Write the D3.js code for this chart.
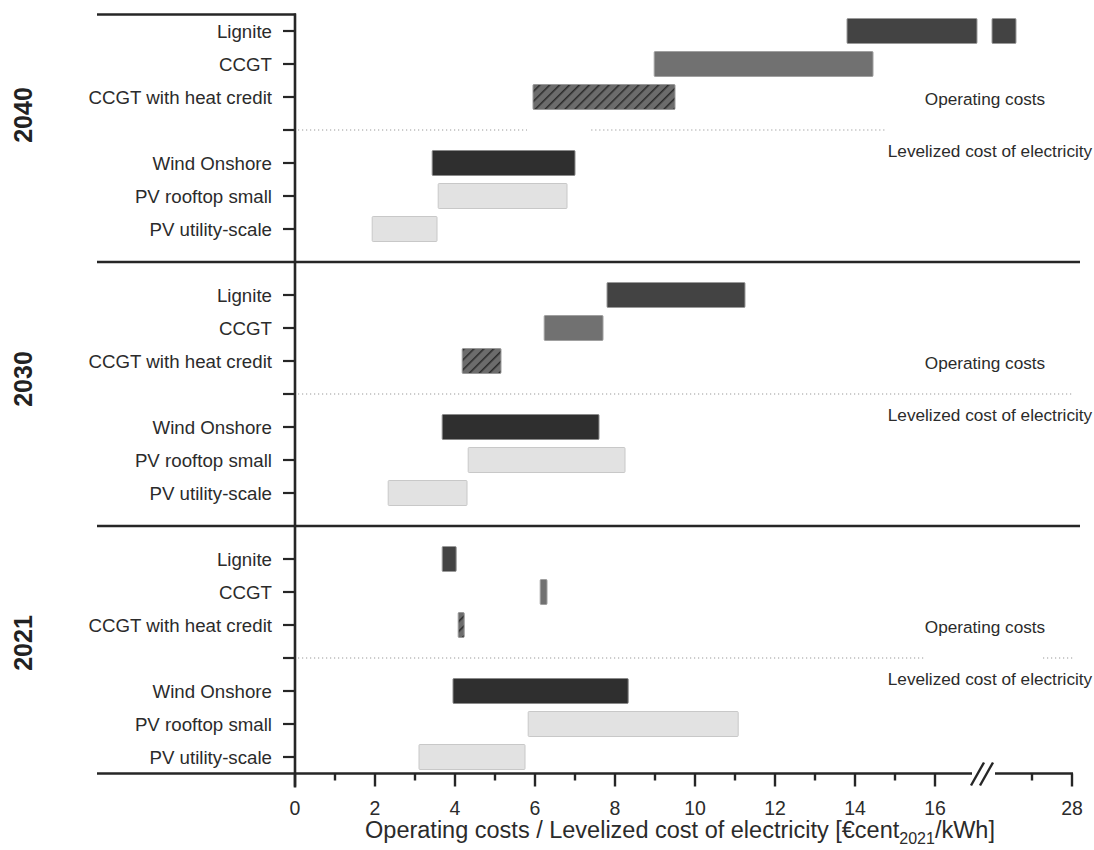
<!DOCTYPE html>
<html>
<head>
<meta charset="utf-8">
<script src="https://cdn.jsdelivr.net/npm/d3@7"></script>
<style>
  html, body { margin: 0; padding: 0; background: #fff; }
  svg { display: block; font-family: "Liberation Sans", Arial, sans-serif; }
</style>
</head>
<body>
<svg id="viz" width="1094" height="850"></svg>
<script>
const techs = ["Lignite", "CCGT", "CCGT with heat credit", "Wind Onshore", "PV rooftop small", "PV utility-scale"]
const years = ["2040", "2030", "2021"]

// ranges per tech, same order as techs
const low2040 = [13.8, 8.98, 5.95, 3.43, 3.58, 1.93]
const high2040 = [26.6, 14.45, 9.5, 7.0, 6.8, 3.55]
const low2030 = [7.8, 6.23, 4.18, 3.68, 4.33, 2.33]
const high2030 = [11.25, 7.7, 5.15, 7.6, 8.25, 4.3]
const low2021 = [3.68, 6.13, 4.08, 3.95, 5.83, 3.1]
const high2021 = [4.03, 6.3, 4.23, 8.33, 11.08, 5.75]

// dotted line between operating costs and LCOE (pieces)
const sep2040 = [[0, 5.8], [7.33, 14.8]]
const sep2030 = [[0, 28.05]]
const sep2021 = [[0, 15.75], [27.2, 28.05]]

const majorTicks = [0, 2, 4, 6, 8, 10, 12, 14, 16, 28]
const minorTicks = [1, 3, 5, 7, 9, 11, 13, 15, 27]

const techFill = ["#434343", "#717171", "url(#hatch)", "#2f2f2f", "#e2e2e2", "#e2e2e2"]
const techStroke = ["#9a9a9a", "#a0a0a0", "#9a9a9a", "#8a8a8a", "#c8c8c8", "#c8c8c8"]

const lows = [low2040, low2030, low2021]
const highs = [high2040, high2030, high2021]
const seps = [sep2040, sep2030, sep2021]

const breakLo = 17.05
const breakHi = 26

const xa = d3.scaleLinear().domain([0, breakLo]).range([295, 977])
const xb = d3.scaleLinear().domain([breakHi, 28]).range([992, 1072])
const x = v => v <= breakLo ? xa(v) : xb(v)

const y = d3.scaleLinear().domain([-0.5, 22.5]).range([14.5, 773.5])
const slotOf = (yi, ti) => yi * 8 + (ti < 3 ? ti : ti + 1)
const barH = 25

const svg = d3.select("#viz")
const ink = "#262626"

const defs = svg.append("defs")
const hatch = defs.append("pattern")
  .attr("id", "hatch")
  .attr("patternUnits", "userSpaceOnUse")
  .attr("width", 7).attr("height", 7)
  .attr("patternTransform", "rotate(45)")
hatch.append("rect").attr("width", 7).attr("height", 7).attr("fill", "#6c6c6c")
hatch.append("line")
  .attr("x1", 0).attr("y1", 0).attr("x2", 0).attr("y2", 7)
  .attr("stroke", "#2a2a2a").attr("stroke-width", 3)

// rows
const rows = []
years.forEach((yr, yi) => {
  techs.forEach((t, ti) => {
    rows.push({ year: yr, yi, tech: t, ti, lo: lows[yi][ti], hi: highs[yi][ti], slot: slotOf(yi, ti) })
  })
})

// split bars that run over the axis break
const pieces = []
rows.forEach(r => {
  if (r.hi <= breakLo) pieces.push({ ...r, a: r.lo, b: r.hi })
  else {
    pieces.push({ ...r, a: r.lo, b: breakLo })
    pieces.push({ ...r, a: breakHi, b: r.hi })
  }
})

// separators (dotted)
const sepG = svg.append("g").attr("class", "g-seps")
seps.forEach((segs, yi) => {
  sepG.selectAll(null)
    .data(segs)
    .enter()
    .append("line")
      .attr("x1", d => x(d[0]) + 3)
      .attr("x2", d => x(d[1]))
      .attr("y1", y(yi * 8 + 3))
      .attr("y2", y(yi * 8 + 3))
      .attr("stroke", "#9a9a9a")
      .attr("stroke-width", 1.2)
      .attr("stroke-dasharray", "1.2,2.8")
})

svg.append("g").attr("class", "g-bars")
  .selectAll("rect")
  .data(pieces)
  .enter()
  .append("rect")
    .attr("x", d => x(d.a))
    .attr("y", d => y(d.slot) - barH / 2)
    .attr("width", d => x(d.b) - x(d.a))
    .attr("height", barH)
    .attr("rx", 1)
    .attr("fill", d => techFill[d.ti])
    .attr("stroke", d => techStroke[d.ti])
    .attr("stroke-width", 1)

// panel frame lines
const frame = svg.append("g").attr("class", "g-frame")
frame.append("line").attr("x1", 97).attr("x2", 296).attr("y1", y(-0.5)).attr("y2", y(-0.5))
frame.selectAll(null)
  .data([7, 15])
  .enter()
  .append("line")
    .attr("x1", 97).attr("x2", 1080)
    .attr("y1", d => y(d)).attr("y2", d => y(d))
frame.append("line").attr("x1", 97).attr("x2", 296).attr("y1", y(22.5)).attr("y2", y(22.5))
frame.selectAll("line").attr("stroke", ink).attr("stroke-width", 2.4)

// y axis line + ticks
const yTicks = d3.range(0, 23).filter(s => s !== 7 && s !== 15)
const yAx = svg.append("g").attr("class", "g-yaxis")
yAx.append("line")
  .attr("x1", 295).attr("x2", 295)
  .attr("y1", y(-0.5) - 1).attr("y2", y(22.5) + 14)
  .attr("stroke", ink).attr("stroke-width", 2.6)
yAx.selectAll("line.tick")
  .data(yTicks)
  .enter()
  .append("line")
    .attr("class", "tick")
    .attr("x1", 283).attr("x2", 295)
    .attr("y1", d => y(d)).attr("y2", d => y(d))
    .attr("stroke", ink).attr("stroke-width", 2.2)

yAx.selectAll("text")
  .data(rows)
  .enter()
  .append("text")
    .attr("x", 272)
    .attr("y", d => y(d.slot))
    .attr("dy", "0.35em")
    .attr("text-anchor", "end")
    .attr("font-size", 18.7)
    .attr("fill", "#2b2b2b")
    .text(d => d.tech)

// year labels
svg.append("g").attr("class", "g-years")
  .selectAll("text")
  .data(years)
  .enter()
  .append("text")
    .attr("transform", (d, i) => `translate(32,${y(i * 8 + 3) - 15}) rotate(-90)`)
    .attr("text-anchor", "middle")
    .attr("font-size", 25)
    .attr("font-weight", "bold")
    .attr("fill", "#222")
    .text(d => d)

// section labels
const notes = svg.append("g").attr("class", "g-notes")
years.forEach((yr, yi) => {
  notes.append("text")
    .attr("x", 985).attr("y", y(yi * 8 + 3) - 31)
    .attr("dy", "0.35em")
    .attr("text-anchor", "middle")
    .attr("font-size", 17.2)
    .attr("fill", "#2b2b2b")
    .text("Operating costs")
  notes.append("text")
    .attr("x", 990).attr("y", y(yi * 8 + 3) + 21)
    .attr("dy", "0.35em")
    .attr("text-anchor", "middle")
    .attr("font-size", 17.2)
    .attr("fill", "#2b2b2b")
    .text("Levelized cost of electricity")
})

// x axis with break
const axisY = y(22.5)
const xAx = svg.append("g").attr("class", "g-xaxis")
xAx.append("line").attr("x1", 295).attr("x2", 972).attr("y1", axisY).attr("y2", axisY)
xAx.append("line").attr("x1", 995).attr("x2", 1073).attr("y1", axisY).attr("y2", axisY)
xAx.selectAll(null)
  .data([0, 9])
  .enter()
  .append("line")
    .attr("x1", d => 971 + d).attr("y1", axisY + 12)
    .attr("x2", d => 984 + d).attr("y2", axisY - 11)
xAx.selectAll("line.major")
  .data(majorTicks)
  .enter()
  .append("line")
    .attr("class", "major")
    .attr("x1", d => x(d)).attr("x2", d => x(d))
    .attr("y1", axisY).attr("y2", axisY + 13)
xAx.selectAll("line.minor")
  .data(minorTicks)
  .enter()
  .append("line")
    .attr("class", "minor")
    .attr("x1", d => x(d)).attr("x2", d => x(d))
    .attr("y1", axisY).attr("y2", axisY + 7)
xAx.selectAll("line").attr("stroke", ink).attr("stroke-width", 2.4)

xAx.selectAll("text")
  .data(majorTicks)
  .enter()
  .append("text")
    .attr("x", d => x(d))
    .attr("y", axisY + 41)
    .attr("text-anchor", "middle")
    .attr("font-size", 19.5)
    .attr("fill", "#2b2b2b")
    .text(d => d)

const title = svg.append("text")
  .attr("x", 680)
  .attr("y", 838)
  .attr("text-anchor", "middle")
  .attr("font-size", 23.5)
  .attr("fill", "#2b2b2b")
title.append("tspan").text("Operating costs / Levelized cost of electricity [€cent")
title.append("tspan").attr("font-size", 16).attr("dy", 6).text("2021")
title.append("tspan").attr("dy", -6).text("/kWh]")
</script>
</body>
</html>
